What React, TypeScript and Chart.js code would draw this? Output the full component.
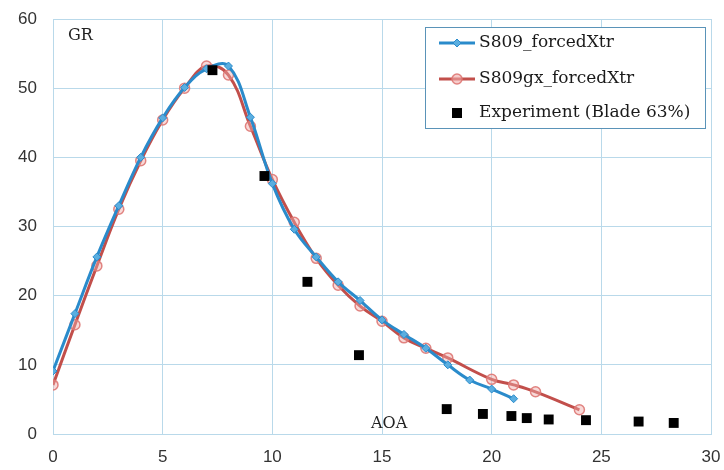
import React, { useEffect, useRef } from "react";
import { Chart, registerables } from "chart.js";

Chart.register(...registerables);

// Angle of attack samples for the two airfoil polars
const aoaS809 = [0, 1, 2, 3, 4, 5, 6, 7, 8, 9, 10, 11, 12, 13, 14, 15, 16, 17, 18, 19, 20, 21];
const grS809 = [9.1, 17.4, 25.6, 33.0, 40.0, 45.7, 50.1, 52.8, 53.2, 45.8, 36.2, 29.6, 25.6, 22.0, 19.3, 16.5, 14.4, 12.4, 10.0, 7.8, 6.5, 5.1];

const aoaS809gx = [0, 1, 2, 3, 4, 5, 6, 7, 8, 9, 10, 11, 12, 13, 14, 15, 16, 17, 18, 20, 21, 22, 24];
const grS809gx = [7.1, 15.8, 24.3, 32.5, 39.5, 45.4, 50.0, 53.2, 51.9, 44.5, 36.8, 30.6, 25.4, 21.5, 18.5, 16.3, 13.9, 12.4, 11.0, 7.9, 7.1, 6.1, 3.5];

// Measured values at 63% blade span
const aoaExp = [7.27, 9.64, 11.6, 13.95, 17.95, 19.6, 20.9, 21.6, 22.6, 24.3, 26.7, 28.3];
const grExp = [52.6, 37.3, 22.0, 11.4, 3.6, 2.9, 2.6, 2.3, 2.1, 2.0, 1.8, 1.6];

const seriesLabels = ["S809_forcedXtr", "S809gx_forcedXtr", "Experiment (Blade 63%)"];
const xTicks = [0, 5, 10, 15, 20, 25, 30];
const yTicks = [0, 10, 20, 30, 40, 50, 60];

const BLUE = "#2a8bcb";
const RED = "#c24f4b";
const GRID = "#b9d9ea";

const pairs = (xs: number[], ys: number[]) => xs.map((x, i) => ({ x, y: ys[i] }));

// Keep the plot frame fixed: the layout padding alone decides the margins
const dropLabelOverhang = (axis: any) => {
  axis.paddingTop = 0;
  axis.paddingBottom = 0;
  axis.paddingLeft = 0;
  axis.paddingRight = 0;
};

// Boxed legend in the upper-right corner of the plot, plus the axis captions
const annotations = {
  id: "annotations",
  afterDraw(chart: any) {
    const { ctx, chartArea } = chart;
    ctx.save();

    ctx.font = "16px 'DejaVu Serif', serif";
    ctx.fillStyle = "#222";
    ctx.textBaseline = "middle";
    ctx.textAlign = "left";
    ctx.fillText("GR", chartArea.left + 15, chartArea.top + 17);
    const xAxis = chart.scales.x;
    ctx.fillText("AOA", xAxis.getPixelForValue(14.5), chartArea.bottom - 10);

    const boxW = 280;
    const boxH = 101;
    const bx = chartArea.right - boxW - 6;
    const by = chartArea.top + 8;
    ctx.fillStyle = "#fff";
    ctx.fillRect(bx, by, boxW, boxH);
    ctx.strokeStyle = "#5a93b8";
    ctx.lineWidth = 1;
    ctx.strokeRect(bx + 0.5, by + 0.5, boxW, boxH);

    const rows = [by + 16, by + 52, by + 86];
    const lx0 = bx + 14;
    const lx1 = bx + 50;
    const mx = (lx0 + lx1) / 2;

    // row 1: blue line with diamond
    ctx.strokeStyle = BLUE;
    ctx.lineWidth = 3;
    ctx.beginPath();
    ctx.moveTo(lx0, rows[0]);
    ctx.lineTo(lx1, rows[0]);
    ctx.stroke();
    ctx.fillStyle = "#5aaee0";
    ctx.lineWidth = 1;
    ctx.beginPath();
    ctx.moveTo(mx, rows[0] - 4);
    ctx.lineTo(mx + 4, rows[0]);
    ctx.lineTo(mx, rows[0] + 4);
    ctx.lineTo(mx - 4, rows[0]);
    ctx.closePath();
    ctx.fill();
    ctx.stroke();

    // row 2: red line with circle
    ctx.strokeStyle = RED;
    ctx.lineWidth = 3;
    ctx.beginPath();
    ctx.moveTo(lx0, rows[1]);
    ctx.lineTo(lx1, rows[1]);
    ctx.stroke();
    ctx.strokeStyle = "rgba(222,120,116,0.9)";
    ctx.fillStyle = "rgba(240,170,168,0.6)";
    ctx.lineWidth = 1.5;
    ctx.beginPath();
    ctx.arc(mx, rows[1], 5, 0, Math.PI * 2);
    ctx.fill();
    ctx.stroke();

    // row 3: black square
    ctx.fillStyle = "#000";
    ctx.fillRect(mx - 5, rows[2] - 5, 10, 10);

    ctx.fillStyle = "#1a1a1a";
    ctx.font = "17px 'DejaVu Serif', serif";
    seriesLabels.forEach((t, i) => ctx.fillText(t, lx1 + 4, rows[i]));

    ctx.restore();
  },
};

export default function App() {
  const ref = useRef<HTMLCanvasElement | null>(null);

  useEffect(() => {
    if (!ref.current) return;
    const chart = new Chart(ref.current, {
      type: "line",
      data: {
        datasets: [
          {
            label: seriesLabels[0],
            data: pairs(aoaS809, grS809),
            borderColor: BLUE,
            borderWidth: 3,
            backgroundColor: "#5aaee0",
            pointStyle: "rectRot",
            pointRadius: 4,
            pointBorderColor: BLUE,
            pointBorderWidth: 1,
            tension: 0.4,
            order: 1,
          },
          {
            label: seriesLabels[1],
            data: pairs(aoaS809gx, grS809gx),
            borderColor: RED,
            borderWidth: 3,
            backgroundColor: "rgba(240,170,168,0.45)",
            pointStyle: "circle",
            pointRadius: 5,
            pointBorderColor: "rgba(222,120,116,0.9)",
            pointBorderWidth: 1.5,
            tension: 0.4,
            order: 2,
          },
          {
            label: seriesLabels[2],
            data: pairs(aoaExp, grExp),
            showLine: false,
            backgroundColor: "#000",
            borderColor: "#000",
            pointStyle: "rect",
            pointRadius: 7,
            pointBorderWidth: 0,
            order: 0,
          },
        ],
      },
      options: {
        animation: false,
        responsive: false,
        layout: { padding: { left: 0, right: 13, top: 19, bottom: 0 } },
        plugins: { legend: { display: false }, tooltip: { enabled: false } },
        scales: {
          x: {
            type: "linear",
            min: 0,
            max: 30,
            afterBuildTicks: (axis: any) => {
              axis.ticks = xTicks.map((v) => ({ value: v }));
            },
            afterFit: (axis: any) => {
              axis.height = 36;
              dropLabelOverhang(axis);
            },
            grid: { color: GRID, lineWidth: 1, drawTicks: false },
            border: { color: GRID, width: 1 },
            ticks: {
              padding: 13,
              color: "#333",
              font: { family: "'Liberation Sans', sans-serif", size: 17 },
            },
          },
          y: {
            type: "linear",
            min: 0,
            max: 60,
            afterBuildTicks: (axis: any) => {
              axis.ticks = yTicks.map((v) => ({ value: v }));
            },
            afterFit: (axis: any) => {
              axis.width = 53;
              dropLabelOverhang(axis);
            },
            grid: { color: GRID, lineWidth: 1, drawTicks: false },
            border: { color: GRID, width: 1 },
            ticks: {
              padding: 16,
              color: "#333",
              font: { family: "'Liberation Sans', sans-serif", size: 17 },
            },
          },
        },
      },
      plugins: [annotations],
    });
    return () => chart.destroy();
  }, []);

  return (
    <div style={{ position: "absolute", left: 0, top: 0, width: 724, height: 470, background: "#fff" }}>
      <canvas ref={ref} width={724} height={470} />
    </div>
  );
}
